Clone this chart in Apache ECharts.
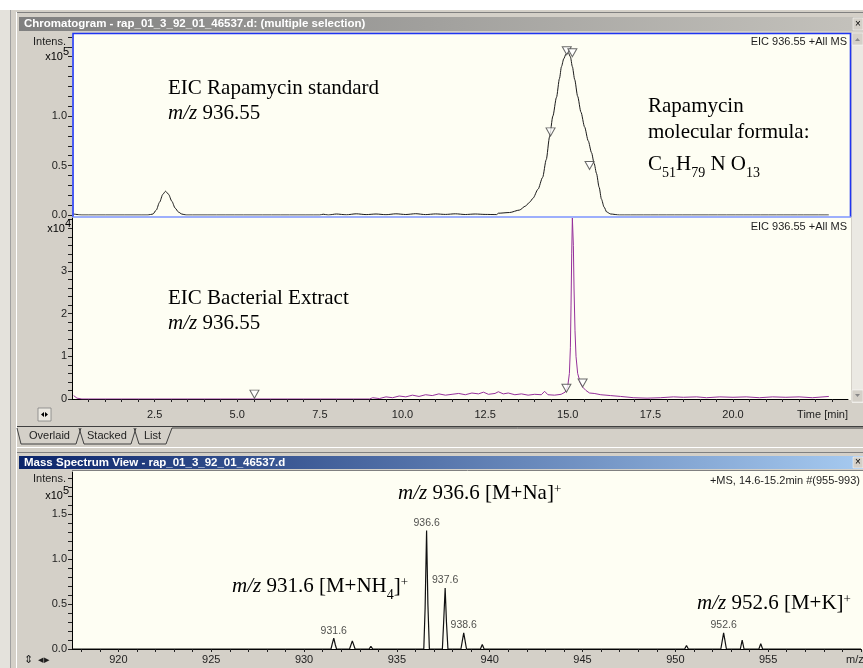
<!DOCTYPE html>
<html>
<head>
<meta charset="utf-8">
<script src="https://cdn.jsdelivr.net/npm/echarts@6/dist/echarts.min.js"></script>
<style>
html,body{margin:0;padding:0;background:#fff;}
#chart{width:863px;height:668px;}
</style>
</head>
<body>
<div id="chart"></div>
<script>
// EIC 936.55, rapamycin standard, intensity x10^5 vs time [min]
var stdTrace = [
  [0.05,0.01],[0.3,0.0],[2.3,0.0],[2.45,0.01],[2.55,0.05],[2.65,0.13],[2.75,0.21],[2.83,0.24],
  [2.92,0.21],[3.02,0.14],[3.12,0.07],[3.22,0.03],[3.32,0.01],[3.45,0.0],[7.5,0.0],[7.6,0.008],
  [7.75,0.0],[8.0,0.01],[8.3,0.002],[8.6,0.012],[8.9,0.004],[9.2,0.01],[9.5,0.003],[9.8,0.012],
  [10.1,0.005],[10.4,0.013],[10.7,0.004],[11.0,0.011],[11.3,0.006],[11.6,0.012],[11.9,0.005],
  [12.2,0.01],[12.5,0.006],[12.85,0.004],[12.9,0.018],[13.24,0.025],[13.54,0.05],[13.72,0.09],
  [13.85,0.13],[13.95,0.17],[14.1,0.26],[14.24,0.38],[14.35,0.56],[14.45,0.79],[14.55,1.0],
  [14.66,1.19],[14.75,1.38],[14.81,1.5],[14.88,1.58],[14.95,1.63],[15.02,1.64],[15.08,1.6],
  [15.14,1.5],[15.21,1.37],[15.3,1.2],[15.4,1.04],[15.51,0.89],[15.62,0.75],[15.72,0.63],
  [15.8,0.52],[15.87,0.42],[15.95,0.28],[16.02,0.16],[16.1,0.08],[16.18,0.03],[16.3,0.01],
  [16.57,0.0],[22.9,0.0]
];
// EIC 936.55, bacterial extract, intensity x10^4
var extractTrace = [
  [0.05,0.08],[0.15,0.02],[0.3,0.0],[9.0,0.0],[9.1,0.03],[9.3,0.01],[9.5,0.05],[9.7,0.03],
  [9.9,0.07],[10.1,0.05],[10.3,0.09],[10.5,0.06],[10.7,0.1],[10.9,0.08],[11.1,0.12],[11.3,0.09],
  [11.5,0.11],[11.7,0.13],[11.9,0.1],[12.1,0.14],[12.3,0.12],[12.45,0.16],[12.6,0.11],[12.8,0.13],
  [12.9,0.17],[13.05,0.12],[13.2,0.14],[13.4,0.1],[13.6,0.12],[13.8,0.09],[14.0,0.11],[14.2,0.1],
  [14.3,0.18],[14.4,0.1],[14.6,0.09],[14.8,0.11],[14.92,0.16],[15.0,0.3],[15.05,0.6],[15.08,1.2],
  [15.1,2.2],[15.12,3.4],[15.14,4.24],[15.17,3.6],[15.19,2.6],[15.22,1.6],[15.25,1.0],[15.3,0.6],
  [15.38,0.38],[15.45,0.28],[15.55,0.2],[15.66,0.14],[15.8,0.13],[16.0,0.1],[16.3,0.08],
  [16.6,0.06],[17.0,0.03],[17.4,0.02],[17.8,0.03],[18.2,0.05],[18.5,0.04],[18.9,0.05],[19.2,0.03],
  [19.6,0.05],[20.0,0.04],[20.4,0.05],[20.8,0.03],[21.2,0.05],[21.6,0.04],[22.0,0.05],[22.4,0.03],
  [22.9,0.06]
];
// integration markers (tip position)
var stdMarks = [[14.48,0.8],[14.97,1.62],[15.14,1.6],[15.66,0.46]];
var extractMarks = [[5.52,0.02],[14.96,0.16],[15.45,0.28]];

// mass spectrum +MS 14.6-15.2 min, intensity x10^5 vs m/z
var spectrum = [
  [917.5,0],[918.2,0],[918.3,0.01],[918.4,0],[920.2,0],[920.3,0.01],[920.4,0],
  [921.2,0],[921.3,0.01],[921.4,0],[922.3,0],[922.4,0.01],[922.5,0],
  [931.45,0],[931.52,0.06],[931.6,0.12],[931.68,0.05],[931.75,0],
  [932.45,0],[932.6,0.09],[932.75,0],[933.5,0],[933.6,0.03],[933.7,0],
  [934.5,0],[934.6,0.02],[934.7,0],[935.5,0],[935.6,0.02],[935.7,0],
  [936.45,0],[936.52,0.45],[936.6,1.32],[936.67,0.5],[936.75,0],
  [937.45,0],[937.52,0.3],[937.6,0.68],[937.67,0.3],[937.75,0],
  [938.45,0],[938.6,0.18],[938.75,0],[939.5,0],[939.6,0.05],[939.7,0],
  [940.5,0],[940.6,0.02],[940.7,0],[941.6,0],[941.7,0.01],[941.8,0],
  [945.6,0],[945.7,0.01],[945.8,0],[947.5,0],[947.6,0.01],[947.7,0],
  [948.5,0],[948.6,0.01],[948.7,0],[950.5,0],[950.6,0.04],[950.7,0],
  [951.5,0],[951.6,0.01],[951.7,0],[952.45,0],[952.6,0.18],[952.75,0],
  [953.5,0],[953.6,0.1],[953.7,0],[954.5,0],[954.6,0.06],[954.7,0],
  [955.5,0],[955.6,0.01],[955.7,0],[956.6,0],[956.7,0.01],[956.8,0],
  [959.6,0],[959.7,0.01],[959.8,0],[960,0]
];
var peakLabels = [[931.6,0.12],[936.6,1.32],[937.6,0.68],[938.6,0.18],[952.6,0.18]];

// tick labels
var timeLabels = [2.5,5,7.5,10,12.5,15,17.5,20];
var mzLabels = [920,925,930,935,940,945,950,955];
var stdIntLabels = [0,0.5,1.0];
var extIntLabels = [0,1,2,3];
var msIntLabels = [0,0.5,1.0,1.5];

function steps(a,b,s){
  var out=[];
  for(var v=a; v<=b+1e-9; v+=s){ out.push(Math.round(v*100)/100); }
  return out;
}

var ui = 'Liberation Sans, Arial, sans-serif';
var serif = 'Liberation Serif, Times New Roman, serif';
var ivory = '#fefef3';
var chrome = '#d4d0c8';

var myChart = echarts.init(document.getElementById('chart'));

function yAxisFor(grid, max, ticks, labels, fmt, lineShow){
  return {
    type:'value', gridIndex:grid, min:0, max:max,
    axisLine:{show:lineShow, lineStyle:{color:'#000',width:1}},
    axisTick:{show:true, inside:false, length:4, customValues:ticks, lineStyle:{color:'#222'}},
    axisLabel:{customValues:labels, formatter:fmt, margin:5, fontSize:11, fontFamily:ui, color:'#1e1e1e'},
    splitLine:{show:false}
  };
}

// rich styles: main text top aligned, subscripts bottom aligned in the line
var rich = {
  n:{fontSize:21, fontFamily:serif, color:'#111', lineHeight:26, verticalAlign:'top'},
  i:{fontSize:21, fontFamily:serif, fontStyle:'italic', color:'#111', lineHeight:26, verticalAlign:'top'},
  sub:{fontSize:14, fontFamily:serif, color:'#111', lineHeight:24, verticalAlign:'bottom'},
  sup:{fontSize:13, fontFamily:serif, color:'#111', lineHeight:12, verticalAlign:'top'}
};
function note(x,y,text){
  return {type:'text', x:x, y:y+4, z:50, style:{text:text, rich:rich, verticalAlign:'top', align:'left'}};
}
var smallRich = {
  a:{fontSize:11, fontFamily:ui, color:'#1e1e1e', lineHeight:16, verticalAlign:'bottom'},
  b:{fontSize:11, fontFamily:ui, color:'#1e1e1e', lineHeight:6, verticalAlign:'top'}
};
function small(x,y,text,align){
  return {type:'text', x:x, y:y, z:50, style:{text:text, fill:'#1e1e1e', font:'11px '+ui, align:align||'left', verticalAlign:'middle'}};
}
function exp(x,y,p){
  return {type:'text', x:x, y:y, z:50, style:{text:'{a|x10}{b|'+p+'}', rich:smallRich, align:'right', verticalAlign:'top'}};
}
function titleBar(y,h,c0,c1,text){
  return [
    {type:'rect', z:-5, shape:{x:19,y:y,width:844,height:h},
      style:{fill:new echarts.graphic.LinearGradient(0,0,1,0,[{offset:0,color:c0},{offset:1,color:c1}])}},
    {type:'text', z:-4, x:24, y:y+h/2, style:{text:text, fill:'#fff', font:'bold 11.5px '+ui, verticalAlign:'middle'}},
    {type:'rect', z:-4, shape:{x:853,y:y+1,width:10,height:h-2}, style:{fill:chrome, stroke:'#fff', lineWidth:0.5}},
    {type:'text', z:-3, x:858, y:y+h/2, style:{text:'×', fill:'#000', font:'10px '+ui, align:'center', verticalAlign:'middle'}}
  ];
}

var graphics = [
  {type:'rect', z:-9, shape:{x:0,y:0,width:863,height:668}, style:{fill:chrome}},
  {type:'rect', z:-8, shape:{x:0,y:0,width:863,height:10}, style:{fill:'#fff'}},
  {type:'rect', z:-8, shape:{x:0,y:10,width:10,height:658}, style:{fill:'#e4e2dc'}},
  {type:'line', z:-8, shape:{x1:10.5,y1:10,x2:10.5,y2:668}, style:{stroke:'#a0a0a0'}},
  {type:'line', z:-8, shape:{x1:16.5,y1:12,x2:16.5,y2:668}, style:{stroke:'#fff'}},
  {type:'line', z:-8, shape:{x1:17,y1:12.5,x2:863,y2:12.5}, style:{stroke:'#808080'}},
  // chromatogram panels
  {type:'rect', z:-6, shape:{x:72,y:33,width:779,height:184}, style:{fill:ivory}},
  {type:'rect', z:-6, shape:{x:72,y:217,width:779,height:183}, style:{fill:ivory}},
  {type:'polyline', z:40, shape:{points:[[73,217],[73,33.5],[850.5,33.5],[850.5,217]]}, style:{stroke:'#1f35f2', lineWidth:1.6, fill:null}},
  {type:'line', z:40, shape:{x1:73,y1:217,x2:851,y2:217}, style:{stroke:'#7d95ff', lineWidth:1.5}},
  // scrollbar
  {type:'rect', z:-6, shape:{x:852,y:33,width:11,height:370}, style:{fill:'#ebe9e3'}},
  {type:'rect', z:-5, shape:{x:852,y:33,width:11,height:12}, style:{fill:chrome, stroke:'#fff', lineWidth:0.5}},
  {type:'polygon', z:-4, shape:{points:[[855,41],[860,41],[857.5,38]]}, style:{fill:'#888'}},
  {type:'rect', z:-5, shape:{x:852,y:390,width:11,height:12}, style:{fill:chrome, stroke:'#fff', lineWidth:0.5}},
  {type:'polygon', z:-4, shape:{points:[[855,394],[860,394],[857.5,397]]}, style:{fill:'#888'}},
  // small pan button
  {type:'rect', z:-5, shape:{x:38,y:408,width:13,height:13}, style:{fill:'#ece9e2', stroke:'#808080', lineWidth:0.8}},
  {type:'polygon', z:-4, shape:{points:[[41,414.5],[44,412],[44,417]]}, style:{fill:'#000'}},
  {type:'polygon', z:-4, shape:{points:[[48,414.5],[45,412],[45,417]]}, style:{fill:'#000'}},
  // tab strip
  {type:'line', z:-5, shape:{x1:17,y1:426.5,x2:863,y2:426.5}, style:{stroke:'#404040'}},
  {type:'polyline', z:-4, shape:{points:[[17,428],[21,444],[76,444],[81,428]]}, style:{stroke:'#404040', fill:null}},
  {type:'polyline', z:-4, shape:{points:[[79,428],[84,444],[131,444],[136,428]]}, style:{stroke:'#404040', fill:null}},
  {type:'polyline', z:-4, shape:{points:[[134,428],[139,444],[166,444],[172,428],[863,428]]}, style:{stroke:'#404040', fill:null}},
  small(29,436,'Overlaid'), small(87,436,'Stacked'), small(144,436,'List'),
  {type:'line', z:-5, shape:{x1:17,y1:447.5,x2:863,y2:447.5}, style:{stroke:'#fff'}},
  {type:'line', z:-5, shape:{x1:17,y1:452.5,x2:863,y2:452.5}, style:{stroke:'#808080'}},
  // spectrum panel
  {type:'rect', z:-6, shape:{x:72,y:470,width:791,height:180}, style:{fill:ivory}},
  {type:'line', z:-5, shape:{x1:72,y1:470.5,x2:863,y2:470.5}, style:{stroke:'#808080'}},
  // axis side texts
  small(66,42,'Intens.','right'), exp(69,46,'5'),
  exp(71,218.5,'4'),
  small(66,479,'Intens.','right'), exp(69,485.5,'5'),
  small(847,42,'EIC 936.55 +All MS','right'),
  small(847,227,'EIC 936.55 +All MS','right'),
  small(860,481,'+MS, 14.6-15.2min #(955-993)','right'),
  small(848,415,'Time [min]','right'),
  small(846,660,'m/z','left'),
  small(28,660,'⇕','center'), small(44,660,'◂▸','center'),
  // annotations
  note(168,74,'{n|EIC Rapamycin standard}'),
  note(168,99,'{i|m/z}{n| 936.55}'),
  note(648,92,'{n|Rapamycin}'),
  note(648,118,'{n|molecular formula:}'),
  note(648,150,'{n|C}{sub|51}{n|H}{sub|79}{n| N O}{sub|13}'),
  note(168,284,'{n|EIC Bacterial Extract}'),
  note(168,309,'{i|m/z}{n| 936.55}'),
  note(398,479,'{i|m/z}{n| 936.6 [M+Na]}{sup|+}'),
  note(232,572,'{i|m/z}{n| 931.6 [M+NH}{sub|4}{n|]}{sup|+}'),
  note(697,589,'{i|m/z}{n| 952.6 [M+K]}{sup|+}')
].concat(
  titleBar(17,14,'#808080','#c4c2bc','Chromatogram - rap_01_3_92_01_46537.d: (multiple selection)'),
  titleBar(456,13,'#0a246a','#a6caf0','Mass Spectrum View - rap_01_3_92_01_46537.d')
);

var markSymbol = 'path://M0,0L10,0L5,9Z';

var option = {
  animation:false,
  backgroundColor:chrome,
  graphic:graphics,
  grid:[
    {left:72, top:34, width:776, height:181},
    {left:72, top:218, width:776, height:181},
    {left:72, top:472, width:789, height:177}
  ],
  xAxis:[
    {type:'value', gridIndex:0, min:0, max:23.48, show:false},
    {type:'value', gridIndex:1, min:0, max:23.48,
      axisLine:{show:true, lineStyle:{color:'#000'}},
      axisTick:{show:true, length:3, customValues:steps(0.5,23,0.5), lineStyle:{color:'#222'}},
      axisLabel:{customValues:timeLabels, formatter:function(v){return v.toFixed(1);}, margin:10, fontSize:11, fontFamily:ui, color:'#1e1e1e'},
      splitLine:{show:false}},
    {type:'value', gridIndex:2, min:917.5, max:960,
      axisLine:{show:true, lineStyle:{color:'#000'}},
      axisTick:{show:true, length:3, customValues:steps(918,960,1), lineStyle:{color:'#222'}},
      axisLabel:{customValues:mzLabels, margin:5, fontSize:11, fontFamily:ui, color:'#1e1e1e'},
      splitLine:{show:false}}
  ],
  yAxis:[
    yAxisFor(0, 1.83, steps(0,1.8,0.1), stdIntLabels, function(v){return v.toFixed(1);}, false),
    yAxisFor(1, 4.24, steps(0,4.2,0.2), extIntLabels, function(v){return String(v);}, true),
    yAxisFor(2, 1.97, steps(0,1.9,0.1), msIntLabels, function(v){return v.toFixed(1);}, true)
  ],
  series:[
    {type:'line', xAxisIndex:0, yAxisIndex:0, data:stdTrace, showSymbol:false, smooth:0.25, smoothMonotone:'x',
      lineStyle:{color:'#1a1a1a', width:1}, z:5},
    {type:'scatter', xAxisIndex:0, yAxisIndex:0, data:stdMarks, symbol:markSymbol, symbolSize:[9,8], symbolOffset:[0,-4],
      itemStyle:{color:'#fff', borderColor:'#444', borderWidth:1}, z:6},
    {type:'line', xAxisIndex:1, yAxisIndex:1, data:extractTrace, showSymbol:false,
      lineStyle:{color:'#95309a', width:1}, z:5},
    {type:'scatter', xAxisIndex:1, yAxisIndex:1, data:extractMarks, symbol:markSymbol, symbolSize:[9,8], symbolOffset:[0,-4],
      itemStyle:{color:'#fff', borderColor:'#444', borderWidth:1}, z:6},
    {type:'line', xAxisIndex:2, yAxisIndex:2, data:spectrum, showSymbol:false,
      lineStyle:{color:'#111', width:1.2}, z:5},
    {type:'scatter', xAxisIndex:2, yAxisIndex:2, data:peakLabels, symbolSize:0, z:6,
      label:{show:true, position:'top', distance:2, formatter:function(p){return p.value[0].toFixed(1);},
        fontSize:10.5, fontFamily:ui, color:'#1e1e1e'}}
  ]
};
myChart.setOption(option);
window.addEventListener('resize',()=>{ myChart.resize(); });
</script>
</body>
</html>
